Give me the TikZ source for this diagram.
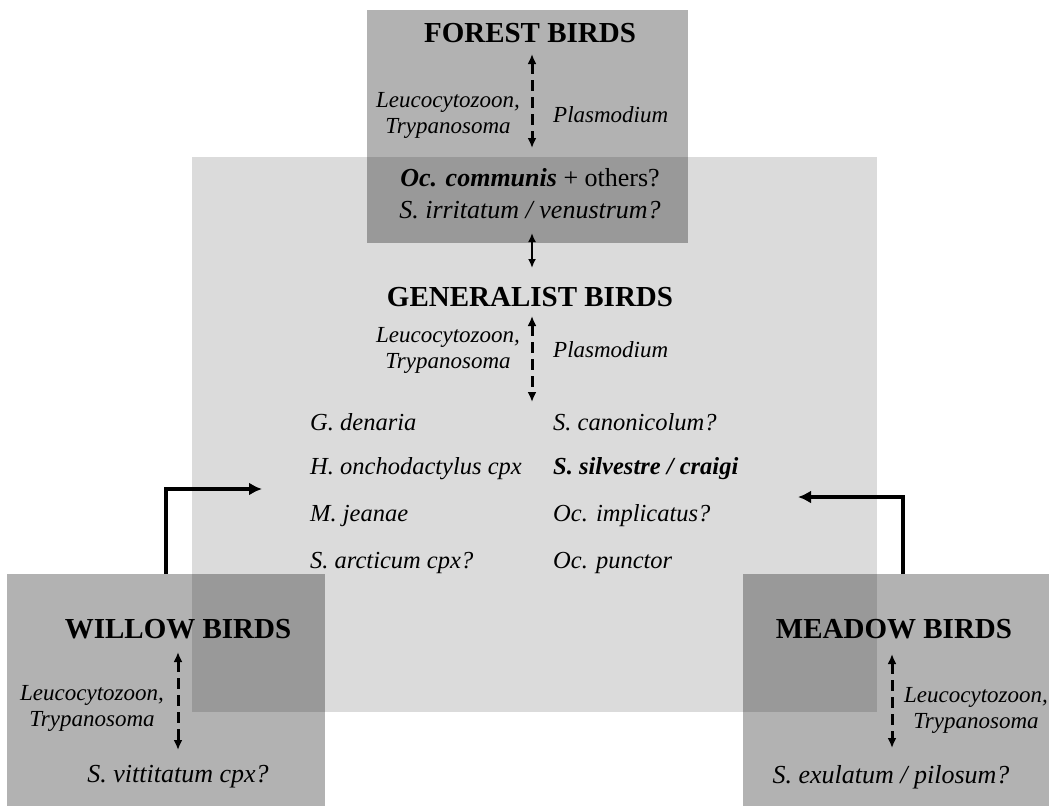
\documentclass[tikz,border=0pt]{standalone}
\usepackage{fontspec}
\setmainfont{Liberation Serif}
\usetikzlibrary{arrows.meta}
\definecolor{boxlight}{gray}{0.86}
\definecolor{boxmid}{gray}{0.70}
\definecolor{boxdark}{gray}{0.60}
\begin{document}
\begin{tikzpicture}[x=1pt,y=-1pt,
  heading/.style={font=\fontsize{29}{32}\selectfont\bfseries, inner sep=0pt},
  label/.style={font=\fontsize{23}{26}\selectfont\itshape, align=center, inner sep=0pt},
  species/.style={font=\fontsize{24.5}{28}\selectfont\itshape, inner sep=0pt, anchor=west},
  spc/.style={font=\fontsize{26}{30}\selectfont, inner sep=0pt},
  dasharrow/.style={line width=3pt, dash pattern=on 11pt off 6pt,
    {Latex[length=10pt,width=9pt]}-{Latex[length=10pt,width=9pt]}},
  solidarrow/.style={line width=1.8pt, {Latex[length=9pt,width=8pt]}-{Latex[length=9pt,width=8pt]}},
  elbow/.style={line width=4pt, -{Latex[length=13pt,width=13pt]}}]
\useasboundingbox (0,0) rectangle (1051,808);
% regions
\fill[boxlight] (192,157) rectangle (877,712);
\fill[boxmid] (367,10) rectangle (688,243);
\fill[boxmid] (7,574) rectangle (325,806);
\fill[boxmid] (743,574) rectangle (1049,806);
\fill[boxdark] (367,157) rectangle (688,243);
\fill[boxdark] (192,574) rectangle (325,712);
\fill[boxdark] (743,574) rectangle (877,712);

% forest
\node[heading] (forest) at (530,33) {FOREST BIRDS};
\node[label] (forestL) at (448,115) {Leucocytozoon,\\Trypanosoma};
\node[label, anchor=west] (forestP) at (553,115) {Plasmodium};
\coordinate (fa1) at (532,54);
\coordinate (fa2) at (532,148);
\draw[dasharrow] (fa1) -- (fa2);
\node[spc] (oc) at (530,178) {\textbf{\textit{Oc. communis}} + others?};
\node[spc, font=\fontsize{26}{30}\selectfont\itshape] (sirr) at (530,210) {S. irritatum / venustrum?};
\coordinate (sa1) at (532,233);
\coordinate (sa2) at (532,268);
\draw[solidarrow] (sa1) -- (sa2);

% generalist
\node[heading] (gen) at (530,297) {GENERALIST BIRDS};
\node[label] (genL) at (448,350) {Leucocytozoon,\\Trypanosoma};
\node[label, anchor=west] (genP) at (553,350) {Plasmodium};
\coordinate (ga1) at (532,316);
\coordinate (ga2) at (532,402);
\draw[dasharrow] (ga1) -- (ga2);

\node[species] (s1) at (310,422) {G. denaria};
\node[species] (s2) at (310,469) {H. onchodactylus cpx};
\node[species] (s3) at (310,516) {M. jeanae};
\node[species] (s4) at (310,563) {S. arcticum cpx?};
\node[species] (s5) at (553,422) {S. canonicolum?};
\node[species, font=\fontsize{24.5}{28}\selectfont\bfseries\itshape] (s6) at (553,469) {S. silvestre / craigi};
\node[species] (s7) at (553,516) {Oc. implicatus?};
\node[species] (s8) at (553,563) {Oc. punctor};

% willow
\node[heading] (willow) at (178,629) {WILLOW BIRDS};
\node[label] (willowL) at (92,708) {Leucocytozoon,\\Trypanosoma};
\coordinate (wa1) at (178,652);
\coordinate (wa2) at (178,750);
\draw[dasharrow] (wa1) -- (wa2);
\node[spc, font=\fontsize{26}{30}\selectfont\itshape] (wsp) at (178,777) {S. vittitatum cpx?};

% meadow
\node[heading] (meadow) at (894,629) {MEADOW BIRDS};
\node[label] (meadowL) at (976,710) {Leucocytozoon,\\Trypanosoma};
\coordinate (ma1) at (892,654);
\coordinate (ma2) at (892,748);
\draw[dasharrow] (ma1) -- (ma2);
\node[spc, font=\fontsize{26}{30}\selectfont\itshape] (msp) at (891,777) {S. exulatum / pilosum?};

% elbow arrows
\coordinate (we0) at (166,574);
\coordinate (we1) at (262,489);
\draw[elbow] (we0) |- (we1);
\coordinate (me0) at (903,574);
\coordinate (me1) at (798,497);
\draw[elbow] (me0) |- (me1);
\end{tikzpicture}
\end{document}
